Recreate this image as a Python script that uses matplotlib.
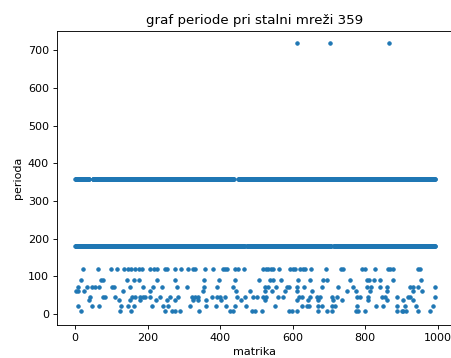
import matplotlib.pyplot as plt
import numpy as np

# matrix index ranges where the two dense bands are visible
band_359 = [(0, 38), (48, 437), (450, 992)]
band_180 = [(0, 467), (474, 706), (713, 992)]

# period 718 (2 * 359)
x_718 = [611, 704, 866]

# scattered short periods
x_120 = [21, 64, 98, 116, 134, 146, 155, 165, 176, 183, 206, 218, 227, 247, 254,
         275, 293, 311, 325, 330, 357, 380, 408, 414, 420, 440, 449, 465,
         519, 526, 532, 539, 545, 563, 592, 600, 606, 620, 627, 634, 649, 692,
         732, 739, 790, 799, 827, 863, 868, 876, 946, 951]
x_90 = [15, 70, 78, 142, 162, 177, 226, 275, 355, 397, 442,
        508, 537, 545, 569, 615, 647, 684, 695, 758, 804, 811, 824, 841, 876, 953]
x_72 = [9, 32, 46, 55, 67, 101, 107, 151, 188, 215, 240, 280, 307, 355, 390, 435,
        523, 532, 554, 583, 590, 611, 631, 680, 726, 765, 804, 815, 841, 859,
        923, 932, 946, 992]
x_60 = [3, 9, 25, 133, 206, 353, 443, 481,
        523, 542, 578, 611, 652, 749, 774, 813, 859, 932, 956]
x_45 = [41, 78, 82, 110, 156, 165, 179, 186, 192, 206, 234, 261, 284, 321, 330,
        339, 376, 390, 399, 412, 445, 467, 490,
        502, 519, 526, 560, 574, 618, 625, 647, 666, 675, 707, 721, 776, 785,
        808, 845, 854, 887, 919, 923, 992]
x_36 = [39, 122, 151, 179, 224, 252, 275, 325, 339, 362, 403, 458,
        523, 611, 643, 670, 712, 735, 808, 859, 905, 932]
x_20 = [9, 46, 67, 125, 146, 162, 211, 243, 256, 316, 362, 388, 417, 440, 472,
        551, 625, 638, 646, 670, 680, 707, 716, 776, 831, 850, 887, 910, 940, 988]
x_8 = [15, 124, 153, 247, 266, 275, 289, 342, 426, 435, 489,
       496, 514, 590, 597, 611, 670, 694, 707, 774, 781, 799, 887, 900, 905,
       912, 946, 978]

levels = [(718, x_718), (120, x_120), (90, x_90), (72, x_72), (60, x_60),
          (45, x_45), (36, x_36), (20, x_20), (8, x_8)]

xs, ys = [], []
for lo, hi in band_359:
    idx = list(range(lo, hi + 1))
    xs += idx
    ys += [359] * len(idx)
for lo, hi in band_180:
    idx = list(range(lo, hi + 1))
    xs += idx
    ys += [179.5] * len(idx)
for val, xv in levels:
    xs += xv
    ys += [val] * len(xv)

fig = plt.figure(figsize=(451 / 80, 358 / 80), dpi=80)
ax = fig.add_axes([56.7 / 451, 33 / 358, 396.3 / 451, 294 / 358])
ax.plot(xs, ys, '.', color='C0')
ax.set_xlim(-51, 1042)
ax.set_ylim(-29.2, 751)
ax.set_title('graf periode pri stalni mreži 359', fontsize=12)
ax.set_xlabel('matrika')
ax.set_ylabel('perioda')
fig.savefig('out.png', dpi=80)
